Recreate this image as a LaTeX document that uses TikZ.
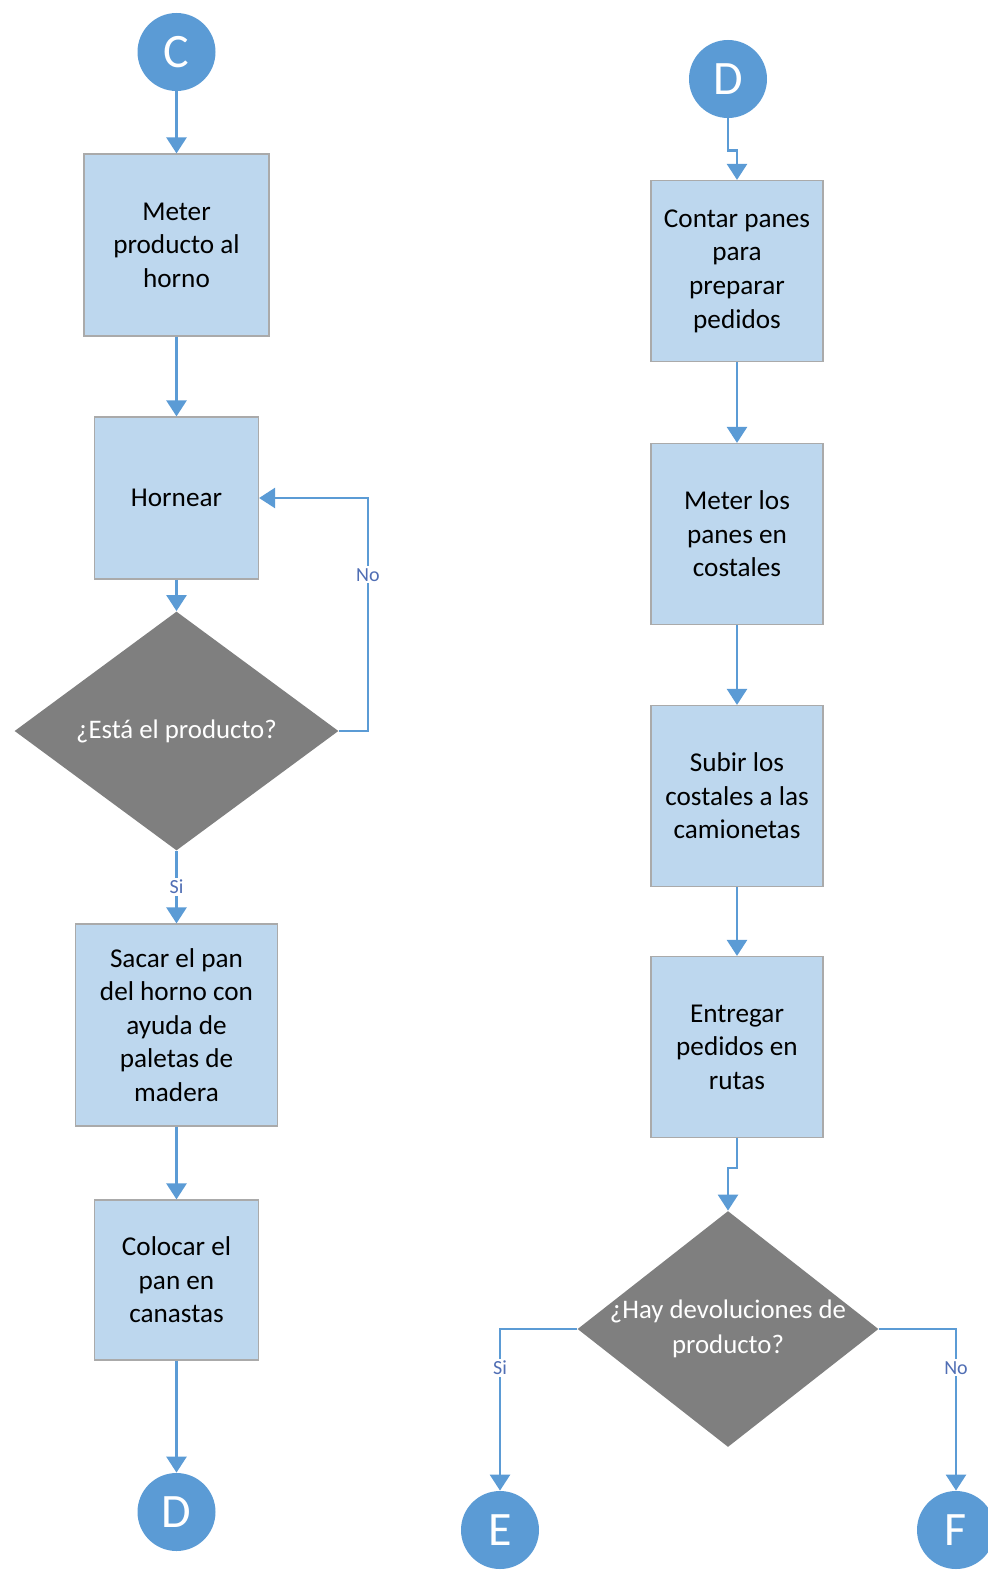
\documentclass[tikz,border=0pt]{standalone}
\usepackage{fontspec}
\setmainfont{Carlito}
\usetikzlibrary{shapes.geometric,arrows.meta,positioning}
\definecolor{conblue}{RGB}{91,155,213}
\definecolor{boxfill}{RGB}{189,215,238}
\definecolor{boxline}{RGB}{170,170,170}
\definecolor{decgray}{RGB}{127,127,127}
\definecolor{lblblue}{RGB}{80,110,180}

\tikzset{
  conn/.style={circle, fill=conblue, text=white, minimum size=39pt, inner sep=0pt,
    font=\fontsize{24}{24}\selectfont},
  proc/.style={rectangle, fill=boxfill, draw=boxline, line width=0.6pt, align=center,
    inner sep=2pt, font=\fontsize{13.6}{16.8}\selectfont},
  dec/.style={diamond, fill=decgray, inner sep=0pt},
  dectext/.style={text=white, align=center, font=\fontsize{13.4}{17.5}\selectfont},
  flow/.style={draw=conblue, line width=1.3pt, -{Triangle[width=10pt,length=8pt]}},
  cond/.style={fill=white, text=lblblue, inner sep=1pt, font=\fontsize{10}{10}\selectfont}
}

\begin{document}
\begin{tikzpicture}[x=0.5pt,y=-0.5pt,node distance=1cm,on grid]
   \useasboundingbox (0,0) rectangle (988,1573);
   % left column
   \node[conn] (c) at (176.5,52) {C};
   \node[proc, minimum width=92.5pt, minimum height=91pt] (meter) [below=96.5pt of c] {Meter\\producto al\\horno};
   \node[proc, minimum width=82pt, minimum height=81pt] (hornear) [below=126.5pt of meter] {Hornear};
   \node[dec, minimum width=162pt, minimum height=119.5pt,
     label={[dectext]center:¿Está el producto?}] (esta) [below=116.5pt of hornear] {};
   \node[proc, minimum width=101pt, minimum height=101pt] (sacar) [below=147pt of esta] {Sacar el pan\\del horno con\\ayuda de\\paletas de\\madera};
   \node[proc, minimum width=82pt, minimum height=80pt] (colocar) [below=127.5pt of sacar] {Colocar el\\pan en\\canastas};
   \node[conn] (d1) [below=116pt of colocar] {D};
   % right column
   \node[conn] (d2) at (728,79) {D};
   \node[proc, minimum width=86pt, minimum height=90.5pt] (contar) at (737,271) {Contar panes\\para\\preparar\\pedidos};
   \node[proc, minimum width=86pt, minimum height=90.5pt] (meterlos) [below=131.5pt of contar] {Meter los\\panes en\\costales};
   \node[proc, minimum width=86pt, minimum height=90.5pt] (subir) [below=131pt of meterlos] {Subir los\\costales a las\\camionetas};
   \node[proc, minimum width=86pt, minimum height=90.5pt] (entregar) [below=125.5pt of subir] {Entregar\\pedidos en\\rutas};
   \node[dec, minimum width=150.5pt, minimum height=118pt,
     label={[dectext]center:{¿Hay devoluciones de\\producto?}}] (hay) at (728,1329) {};
   \node[conn] (e) at (500,1530) {E};
   \node[conn] (f) at (956,1530) {F};

   \draw[flow] (c) -- (meter);
   \draw[flow] (meter) -- (hornear);
   \draw[flow] (hornear) -- (esta);
   \draw[flow] (esta.east) -- ++(29,0) |- node[cond, pos=0.335] {No} (hornear.east);
   \draw[flow] (esta) -- node[cond] {Si} (sacar);
   \draw[flow] (sacar) -- (colocar);
   \draw[flow] (colocar) -- (d1);

   \draw[flow] (d2.south) -- ++(0,32) -| (contar.north);
   \draw[flow] (contar) -- (meterlos);
   \draw[flow] (meterlos) -- (subir);
   \draw[flow] (subir) -- (entregar);
   \draw[flow] (entregar.south) -- ++(0,30) -| (hay.north);
   \draw[flow] (hay.west) -| node[cond, pos=0.62] {Si} (e.north);
   \draw[flow] (hay.east) -| node[cond, pos=0.62] {No} (f.north);
\end{tikzpicture}
\end{document}
